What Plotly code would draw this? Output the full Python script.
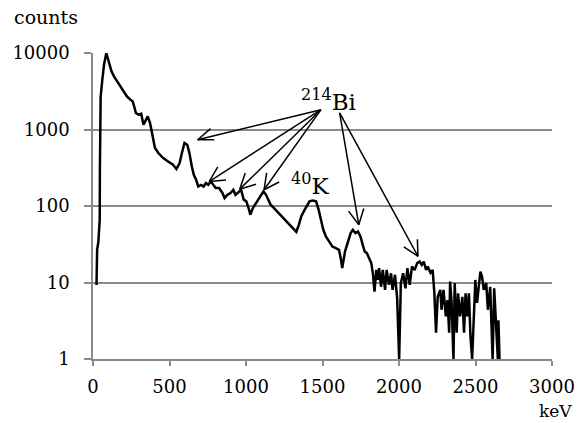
import math
import plotly.graph_objects as go

# ---------------- data ----------------
energy_kev = [23, 27, 35, 44, 45, 46, 50, 61, 72, 87, 104, 121, 137, 158, 179, 201, 222, 244,
              259, 272, 280, 298, 315, 330, 345, 358, 373, 388, 405, 427, 459, 491, 523, 545,
              566, 581, 598, 616, 630, 646, 659, 674, 688, 706, 723, 738, 753, 770, 788, 802,
              824, 846, 860, 878, 899, 917, 931, 953, 968, 985, 1002, 1017, 1028, 1045, 1060,
              1082, 1097, 1114, 1131, 1146, 1161, 1183, 1204, 1226, 1247, 1268, 1290, 1312,
              1329, 1346, 1361, 1383, 1397, 1415, 1436, 1458, 1475, 1490, 1505, 1522, 1544,
              1565, 1587, 1608, 1619, 1629, 1647, 1662, 1684, 1698, 1716, 1732, 1748, 1763,
              1776, 1790, 1806, 1819, 1829, 1840, 1851, 1861, 1870, 1883, 1894, 1909, 1919,
              1935, 1948, 1958, 1974, 1988, 2001, 2012, 2027, 2042, 2055, 2070, 2085, 2102,
              2119, 2135, 2149, 2162, 2177, 2188, 2206, 2220, 2231, 2242, 2253, 2270, 2278,
              2291, 2306, 2317, 2328, 2334, 2343, 2356, 2364, 2377, 2386, 2399, 2414, 2425,
              2435, 2446, 2457, 2467, 2478, 2489, 2499, 2510, 2532, 2543, 2554, 2570, 2581,
              2596, 2612, 2622, 2633, 2639, 2646, 2650, 2657]
counts = [9.3, 26.7, 34, 66, 298, 1227, 2688, 4485, 7050, 10000, 7787, 5761, 4955, 4262, 3665,
          3153, 2713, 2455, 2333, 1911, 1644, 1562, 1610, 1156, 1344, 1484, 1216, 812, 573, 493,
          424, 382, 346, 304, 364, 493, 666, 632, 493, 329, 256, 220, 180, 189, 180, 199, 189,
          209, 189, 172, 172, 148, 127, 140, 148, 163, 140, 155, 163, 121, 115, 94, 77, 94, 104,
          121, 133, 155, 140, 121, 104, 94, 85, 77, 69, 63, 57, 51, 46, 57, 73, 89, 98.5, 115,
          118, 115, 89, 66, 49, 40, 34, 29.5, 28.1, 26.7, 20.8, 15.4, 25.4, 32.7, 44.2, 48.8,
          44.2, 46.4, 39.9, 31, 25.4, 24.2, 19.8, 17.9, 13.2, 7.6, 14.6, 10.8, 15.4, 8.8, 14.6,
          8, 14.6, 9.3, 13.2, 8, 12.6, 6.2, 1.0, 9.8, 13.2, 8.4, 15.4, 9.3, 16.2, 14.6, 17.9,
          18.8, 17, 18.8, 14.6, 16.2, 13.4, 14.6, 7.3, 2.2, 6.5, 8, 4.4, 8, 3.6, 5.9, 2.2, 10.3,
          5.9, 1.0, 9.8, 2.2, 7.2, 3.6, 6.5, 2.2, 7.2, 3.6, 7.2, 2.0, 1.0, 4.8, 10.8, 5.4, 13.9,
          11.9, 8, 9.8, 4.4, 8.8, 1.0, 8.4, 3.6, 2.0, 1.0, 3.2, 1.0]

x_tick_vals = [0, 500, 1000, 1500, 2000, 2500, 3000]
y_tick_vals = [1, 10, 100, 1000, 10000]
y_tick_text = ["1", "10", "100", "1000", "10000"]

# annotation anchors (keV, counts)
bi_label = (1538, 2455)
k_label = (1418, 195)
bi_tail_left = (1490, 1816)
bi_tail_right = (1612, 1644)
bi_tips_left = [(684, 735), (759, 209), (959, 166), (1118, 163)]
bi_tips_right = [(1737, 57), (2124, 22)]

FONT = "DejaVu Serif"

# ---------------- layout geometry ----------------
W, H = 587, 423
L, R, T, B = 91, 31, 53, 64
pw, ph = W - L - R, H - T - B
X_RANGE = (0, 3000)
Y_DECADES = (0, 4)
px_per_kev = pw / (X_RANGE[1] - X_RANGE[0])
px_per_decade = ph / (Y_DECADES[1] - Y_DECADES[0])

HEAD_LEN = 17
HEAD_HALF_ANGLE = math.radians(27)
ARROW_LINE = dict(color="black", width=1.5)

fig = go.Figure()
fig.add_trace(go.Scatter(x=energy_kev, y=counts, mode="lines",
                         line=dict(color="black", width=2.5), hoverinfo="skip"))

shapes = []
for tips, tail in ((bi_tips_left, bi_tail_left), (bi_tips_right, bi_tail_right)):
    for tx, ty in tips:
        # shaft (shapes take data values on the log axis)
        shapes.append(dict(type="line", xref="x", yref="y",
                           x0=tail[0], y0=tail[1], x1=tx, y1=ty, line=ARROW_LINE))
        # open V head: two short legs drawn back from the tip, in pixels
        dxp = (tail[0] - tx) * px_per_kev
        dyp = (math.log10(tail[1]) - math.log10(ty)) * px_per_decade  # up = positive
        ang = math.atan2(dyp, dxp)
        for s in (-1, 1):
            a2 = ang + s * HEAD_HALF_ANGLE
            shapes.append(dict(type="line", xref="x", yref="y",
                               xsizemode="pixel", ysizemode="pixel",
                               xanchor=tx, yanchor=ty,
                               x0=0, y0=0,
                               x1=HEAD_LEN * math.cos(a2), y1=HEAD_LEN * math.sin(a2),
                               line=ARROW_LINE))

annotations = [
    dict(x=bi_label[0], y=math.log10(bi_label[1]), xref="x", yref="y",
         text="<sup>214</sup>Bi", showarrow=False,
         font=dict(family=FONT, size=23, color="black")),
    dict(x=k_label[0], y=math.log10(k_label[1]), xref="x", yref="y",
         text="<sup>40</sup>K", showarrow=False,
         font=dict(family=FONT, size=23, color="black")),
    dict(x=(9 - L) / pw, y=(H - B - 17) / ph, xref="paper", yref="paper",
         text="counts", showarrow=False, xanchor="left", yanchor="middle",
         font=dict(family=FONT, size=19, color="black")),
    dict(x=(578 - L) / pw, y=(H - B - 411) / ph, xref="paper", yref="paper",
         text="keV", showarrow=False, xanchor="right", yanchor="middle",
         font=dict(family=FONT, size=17, color="black")),
]

fig.update_layout(
    width=W, height=H,
    margin=dict(l=L, r=R, t=T, b=B, pad=0),
    paper_bgcolor="white", plot_bgcolor="white",
    showlegend=False,
    font=dict(family=FONT, size=18, color="black"),
    annotations=annotations,
    shapes=shapes,
)
fig.update_xaxes(range=list(X_RANGE), tickvals=x_tick_vals, showgrid=False, zeroline=False,
                 showline=True, linecolor="#8a8a8a", linewidth=1.5,
                 ticks="outside", ticklen=5, tickwidth=1.5, tickcolor="#8a8a8a",
                 ticklabelstandoff=6,
                 tickfont=dict(family=FONT, size=18, color="black"))
fig.update_yaxes(type="log", range=list(Y_DECADES), tickvals=y_tick_vals, ticktext=y_tick_text,
                 showgrid=True, gridcolor="#8a8a8a", gridwidth=1.5, zeroline=False,
                 showline=True, linecolor="#8a8a8a", linewidth=1.5,
                 ticks="outside", ticklen=7, tickwidth=1.5, tickcolor="#8a8a8a",
                 ticklabelstandoff=11,
                 tickfont=dict(family=FONT, size=18, color="black"))

fig.write_html("out.html", config={"displayModeBar": False},
               post_script="document.body.style.margin='0';")
